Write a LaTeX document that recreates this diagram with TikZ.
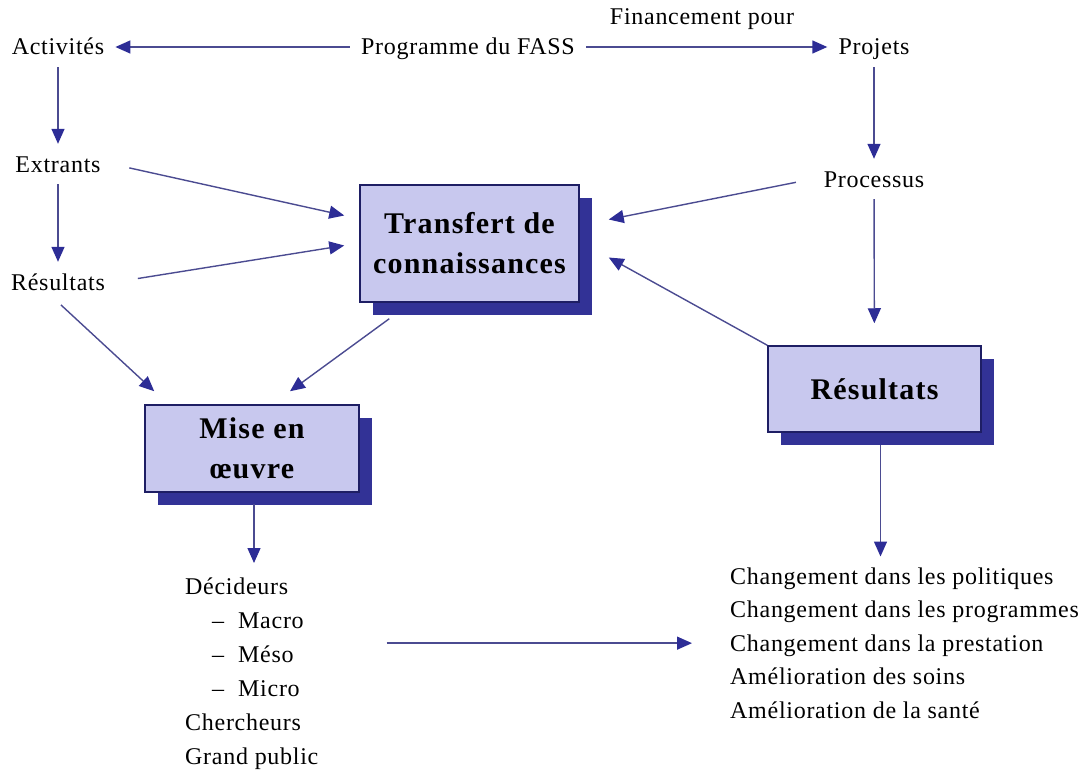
\documentclass[tikz,border=0pt]{standalone}
\usepackage{fontspec}
\setmainfont{Liberation Serif}[LetterSpace=3]
\newfontfamily\boxfont{Liberation Serif}[LetterSpace=4]
\usetikzlibrary{arrows.meta,shadows,calc}

\definecolor{boxfill}{RGB}{200,200,238}
\definecolor{boxline}{RGB}{30,30,100}
\definecolor{shadowblue}{RGB}{50,50,150}
\definecolor{arrowline}{RGB}{75,75,145}
\definecolor{arrowhead}{RGB}{45,45,150}

\tikzset{
    lbl/.style={font=\fontsize{24}{34}\selectfont, inner xsep=11pt, inner ysep=8pt,
        text height=20pt, text depth=4pt},
    list/.style={font=\fontsize{24}{34}\selectfont, align=left, inner sep=0pt, anchor=north west},
    bigbox/.style={draw=boxline, fill=boxfill, line width=1.5pt, align=center, inner sep=0pt,
        font=\boxfont\fontsize{30}{40}\selectfont\bfseries,
        drop shadow={opacity=1, fill=shadowblue, shadow xshift=13pt, shadow yshift=-13pt}},
    arr/.style={draw=arrowline, line width=1.4pt,
        -{Triangle[length=15pt,width=13pt,color=arrowhead]}},
}

\begin{document}
\begin{tikzpicture}[x=1pt,y=-1pt]
    \useasboundingbox (0,0) rectangle (1087,773);

    % Top row and the two side columns
    \node[lbl, anchor=base] (act) at (58,55) {Activités};
    \node[lbl, anchor=base] (prog) at (468,55) {Programme du FASS};
    \node[lbl, anchor=base] (proj) at (874,55) {Projets};
    \node[lbl, anchor=base] (fin) at (702,25) {Financement pour};
    \node[lbl, anchor=base] (extr) at (58,172) {Extrants};
    \node[lbl, anchor=base] (resl) at (58,290) {Résultats};
    \node[lbl, anchor=base] (proc) at (874,187) {Processus};

    % Shadowed boxes
    \node[bigbox, minimum width=219pt, minimum height=117pt] (tc) at (469.5,243.5) {Transfert de\\connaissances};
    \node[bigbox, minimum width=214pt, minimum height=87pt] (mise) at (252,448.5) {Mise en\\œuvre};
    \node[bigbox, minimum width=213pt, minimum height=86pt] (resbox) at (874.5,389) {Résultats};

    % Lists at the bottom
    \node[list] (dec) at (185,578) {Décideurs\\
        \hspace*{27pt}–\hspace{14pt}Macro\\
        \hspace*{27pt}–\hspace{14pt}Méso\\
        \hspace*{27pt}–\hspace{14pt}Micro\\
        Chercheurs\\
        Grand public};
    \node[list, font=\fontsize{24}{33.5}\selectfont] (chg) at (730,567.5) {Changement dans les politiques\\
        Changement dans les programmes\\
        Changement dans la prestation\\
        Amélioration des soins\\
        Amélioration de la santé};

    % Arrows
    \draw[arr] (prog) -- (act);
    \draw[arr] (prog) -- (proj);
    \draw[arr] (act) -- (extr);
    \draw[arr] (extr) -- (resl);
    \draw[arr] (proj) -- (proc);
    \draw[arr, shorten >=22pt] (proc) -- (resbox);
    \draw[arr, shorten <=18pt] (extr.east) -- ($(tc.west)+(-15,-28)$);
    \draw[arr, shorten <=22pt] (resl.east) -- ($(tc.west)+(-15,2)$);
    \draw[arr, shorten <=17pt] (proc.west) -- ($(tc.east)+(29,-24)$);
    \draw[arr] (resbox.north west) -- ($(tc.east)+(29,14)$);
    \draw[arr, shorten <=4pt] (resl.south) -- ($(mise.north west)+(10,-13)$);
    \draw[arr] ($(tc.south west)+(30,16)$) -- ($(mise.north)+(38,-13)$);
    \draw[arr, shorten <=11pt, shorten >=15pt] ([xshift=2pt]mise.south) -- ([xshift=2pt]mise.south |- dec.north);
    \draw[arr, shorten <=12pt, shorten >=11pt] ([xshift=6pt]resbox.south) -- ([xshift=6pt]resbox.south |- chg.north);
    \draw[arr, shorten <=68pt, shorten >=38pt] (dec.east |- chg.west) -- (chg.west);
\end{tikzpicture}
\end{document}
